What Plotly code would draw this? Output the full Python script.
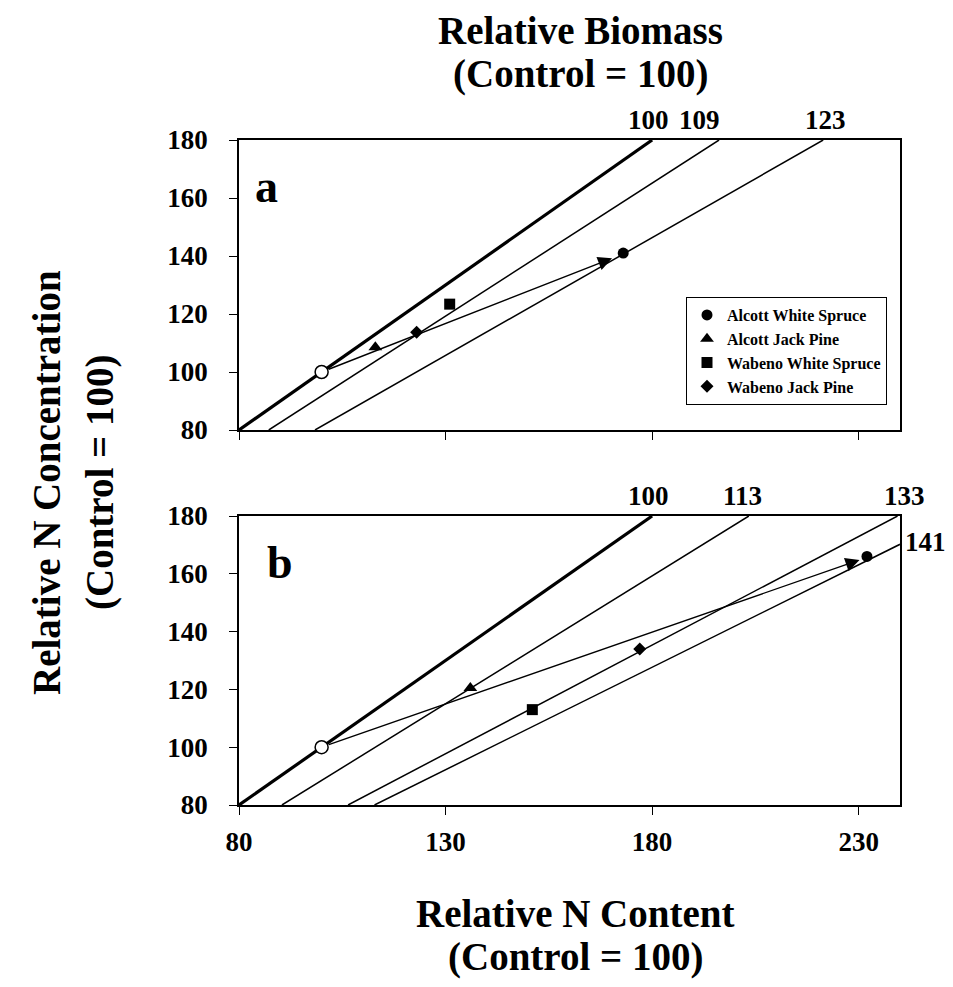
import plotly.graph_objects as go

# ---------------- data ----------------
species = ["Alcott White Spruce", "Alcott Jack Pine", "Wabeno White Spruce", "Wabeno Jack Pine"]
symbols = ["circle", "triangle-up", "square", "diamond"]

# panel a
biomass_a = [100, 109, 123]
content_a = [173, 113, 131, 123]
conc_a = [141, 108.5, 123.4, 113.7]
arrow_tip_a = [170.3, 139.2]

# panel b
biomass_b = [100, 113, 133, 141]
content_b = [232, 136, 151, 177]
conc_b = [166, 120.5, 113, 134]
arrow_tip_b = [230.2, 164.8]

control = [100, 100]

x_ticks = [80, 130, 180, 230]
y_ticks = [80, 100, 120, 140, 160, 180]
x_range = [80, 240]
y_range = [80, 180]

# ---------------- figure ----------------
OFF = 8  # page body margin
W, H = 953 - OFF, 987 - 2 * OFF
SERIF = "Liberation Serif"


def fx(px):
    return (px - OFF) / W


def fy(py):
    return 1 - (py - OFF) / H


fig = go.Figure()


def iso_line(B):
    xs = max(x_range[0], y_range[0] * B / 100.0)
    xe = min(x_range[1], y_range[1] * B / 100.0)
    return [xs, xe], [xs * 100.0 / B, xe * 100.0 / B]


def add_panel(biomass, content, conc, tip, xa, ya, show_legend):
    for B in biomass:
        lx, ly = iso_line(B)
        fig.add_trace(go.Scatter(x=lx, y=ly, mode="lines", xaxis=xa, yaxis=ya,
                                 line=dict(color="black", width=3.2 if B == 100 else 1.5),
                                 showlegend=False, hoverinfo="skip"))
    for i, name in enumerate(species):
        fig.add_trace(go.Scatter(x=[content[i]], y=[conc[i]], mode="markers", name=name,
                                 xaxis=xa, yaxis=ya, legendgroup=name,
                                 marker=dict(symbol=symbols[i], color="black",
                                             size=12 if symbols[i] == "triangle-up" else
                                             (10 if symbols[i] == "diamond" else 11)),
                                 showlegend=show_legend))
    fig.add_trace(go.Scatter(x=[control[0]], y=[control[1]], mode="markers",
                             xaxis=xa, yaxis=ya,
                             marker=dict(symbol="circle", color="white", size=13,
                                         line=dict(color="black", width=1.5)),
                             showlegend=False))
    fig.add_annotation(x=tip[0], y=tip[1], ax=control[0], ay=control[1],
                       xref=xa, yref=ya, axref=xa, ayref=ya, text="",
                       showarrow=True, arrowhead=2, arrowsize=2.0, arrowwidth=1.4,
                       arrowcolor="black", standoff=0, startstandoff=6)


add_panel(biomass_a, content_a, conc_a, arrow_tip_a, "x", "y", True)
add_panel(biomass_b, content_b, conc_b, arrow_tip_b, "x2", "y2", False)

# isoline labels
lab_font = dict(family=SERIF, size=27, color="black", weight="bold")
shift_a = {100: -4, 109: -20, 123: 2}
shift_b = {100: -4, 113: -6, 133: 7}
for B in biomass_a:
    lx, ly = iso_line(B)
    fig.add_annotation(x=lx[1], y=ly[1], xref="x", yref="y", text=str(B), showarrow=False,
                       font=lab_font, xanchor="center", yanchor="bottom", yshift=3,
                       xshift=shift_a.get(B, 0))
for B in biomass_b:
    lx, ly = iso_line(B)
    if ly[1] >= y_range[1] - 0.01:
        fig.add_annotation(x=lx[1], y=ly[1], xref="x2", yref="y2", text=str(B), showarrow=False,
                           font=lab_font, xanchor="center", yanchor="bottom", yshift=3,
                           xshift=shift_b.get(B, 0))
    else:
        fig.add_annotation(x=lx[1], y=ly[1], xref="x2", yref="y2", text=str(B), showarrow=False,
                           font=lab_font, xanchor="left", yanchor="middle", xshift=3, yshift=2)


def paper_text(px, py, text, font, angle=0):
    fig.add_annotation(x=fx(px), y=fy(py), xref="paper", yref="paper", text=text,
                       showarrow=False, font=font, textangle=angle,
                       xanchor="center", yanchor="middle")


# panel letters
let_font = dict(family=SERIF, size=46, color="black", weight="bold")
paper_text(266, 186, "a", let_font)
paper_text(280, 562, "b", let_font)

# titles
t_font = dict(family=SERIF, size=39, color="black", weight="bold")
paper_text(580, 30, "Relative Biomass", t_font)
paper_text(580, 74, "(Control = 100)", t_font)
paper_text(575, 913, "Relative N Content", t_font)
paper_text(575, 957, "(Control = 100)", t_font)
paper_text(46, 483, "Relative N Concentration", t_font, -90)
paper_text(100, 483, "(Control = 100)", t_font, -90)

tick_font = dict(family=SERIF, size=27, color="black", weight="bold")
common_x = dict(range=x_range, tickvals=x_ticks, showgrid=False, zeroline=False,
                showline=True, linecolor="black", linewidth=1.6, mirror=True,
                ticks="outside", ticklen=8, tickcolor="black", tickfont=tick_font,
                domain=[fx(239), fx(900)], automargin=False)
common_y = dict(range=y_range, tickvals=y_ticks, showgrid=False, zeroline=False,
                showline=True, linecolor="black", linewidth=1.6, mirror=True,
                ticks="outside", ticklen=8, tickcolor="black", tickfont=tick_font,
                ticklabelstandoff=16, automargin=False)

fig.update_layout(
    width=W, height=H, margin=dict(l=0, r=0, t=0, b=0, pad=0, autoexpand=False),
    autosize=False,
    paper_bgcolor="white", plot_bgcolor="white",
    xaxis=dict(**common_x, anchor="y", showticklabels=False),
    yaxis=dict(**common_y, anchor="x", domain=[fy(430), fy(140)]),
    xaxis2=dict(**common_x, anchor="y2", ticklabelstandoff=4),
    yaxis2=dict(**common_y, anchor="x2", domain=[fy(805), fy(516)]),
    legend=dict(x=fx(686), y=fy(297), xanchor="left", yanchor="top",
                bordercolor="black", borderwidth=1, bgcolor="white",
                font=dict(family=SERIF, size=16, color="black", weight="bold"),
                tracegroupgap=0, itemwidth=30),
    showlegend=True,
)

fig.write_html("out.html")
